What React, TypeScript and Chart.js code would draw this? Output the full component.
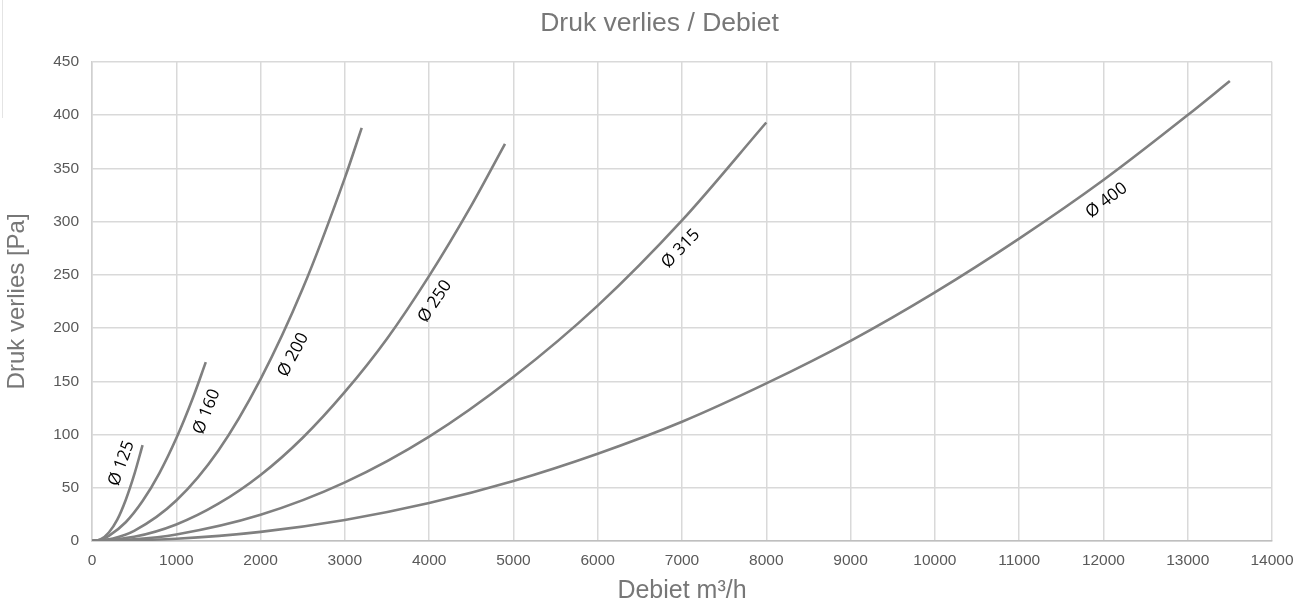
import React, { useEffect, useRef } from "react";
import { Chart, registerables } from "chart.js";

Chart.register(...registerables);

// ---- data ----
const q125 = [0, 100, 200, 300, 400, 500, 600];
const p125 = [0, 1.5, 8, 20, 38.5, 62, 90];

const q160 = [0, 100, 200, 400, 600, 800, 1000, 1200, 1350];
const p160 = [0, 1.2, 4.9, 17.6, 37.5, 63.8, 96.4, 135, 168];

const q200 = [0, 250, 500, 1000, 1500, 2000, 2500, 3000, 3200];
const p200 = [0, 2.4, 9.5, 38, 85, 152, 237, 341, 388];

const q250 = [0, 500, 1000, 1500, 2000, 2500, 3000, 3500, 4000, 4500, 4900];
const p250 = [0, 3.9, 15.5, 35, 62, 97, 140, 190, 249, 315, 373];

const q315 = [0, 500, 1000, 2000, 3000, 4000, 5000, 6000, 7000, 8000];
const p315 = [0, 1.5, 6.1, 24.6, 55, 98, 154, 221, 301, 393];

const q400 = [0, 1000, 2000, 3000, 4000, 5000, 6000, 7000, 8000, 9000, 10000, 11000, 12000, 13000, 13500];
const p400 = [0, 2.1, 8.6, 19.8, 35.7, 56.4, 82, 112, 148, 188, 233.5, 284, 339, 400, 432];

const seriesNames = ["Ø 125", "Ø 160", "Ø 200", "Ø 250", "Ø 315", "Ø 400"];
const seriesQ = [q125, q160, q200, q250, q315, q400];
const seriesP = [p125, p160, p200, p250, p315, p400];

// curve labels: anchor (flow, pressure) and rotation in degrees
const labelQ = [350, 1361, 2388, 4069, 6985, 12037];
const labelP = [72.8, 121.5, 174.8, 224.9, 274.4, 319.8];
const labelAngle = [-70, -68, -62, -56, -46, -37];

const xTickStep = 1000;
const xMax = 14000;
const yTickStep = 50;
const yMax = 450;

const chartTitle = "Druk verlies / Debiet";
const xTitle = "Debiet m³/h";
const yTitle = "Druk verlies [Pa]";

const labelPlugin = {
  id: "curveLabels",
  afterDatasetsDraw(chart: any) {
    const { ctx, scales } = chart;
    ctx.save();
    ctx.fillStyle = "#000000";
    ctx.font = "17px 'Open Sans'";
    ctx.textAlign = "center";
    ctx.textBaseline = "middle";
    for (let i = 0; i < seriesNames.length; i++) {
      const x = scales.x.getPixelForValue(labelQ[i]);
      const y = scales.y.getPixelForValue(labelP[i]);
      ctx.save();
      ctx.translate(x, y);
      ctx.rotate((labelAngle[i] * Math.PI) / 180);
      ctx.fillText(seriesNames[i], 0, 0);
      ctx.restore();
    }
    ctx.restore();
  },
};

export default function App() {
  const canvasRef = useRef<HTMLCanvasElement | null>(null);

  useEffect(() => {
    document.body.style.margin = "0";
    document.body.style.overflow = "hidden";
    const canvas = canvasRef.current;
    if (!canvas) return;

    const datasets = seriesNames.map((name, i) => ({
      label: name,
      data: seriesQ[i].map((q, j) => ({ x: q, y: seriesP[i][j] })),
      showLine: true,
      borderColor: "#808080",
      backgroundColor: "#808080",
      borderWidth: 2.6,
      pointRadius: 0,
      pointHoverRadius: 0,
      cubicInterpolationMode: "monotone" as const,
      fill: false,
    }));

    const tickFont = { family: "'Liberation Sans', Arial, sans-serif", size: 15.5 };
    const titleFont = { family: "'Liberation Sans', Arial, sans-serif", size: 25 };
    const plain = (v: any) => String(v);

    const chart = new Chart(canvas, {
      type: "scatter",
      data: { datasets },
      plugins: [labelPlugin],
      options: {
        animation: false,
        responsive: true,
        maintainAspectRatio: false,
        layout: { padding: { left: 47, right: 33, top: 0, bottom: 0 } },
        plugins: {
          legend: { display: false },
          tooltip: { enabled: false },
          title: {
            display: true,
            text: chartTitle,
            color: "#777777",
            font: { ...titleFont, size: 26.5, weight: "normal" },
            padding: { top: 8, bottom: 22 },
          },
        },
        scales: {
          x: {
            type: "linear",
            min: 0,
            max: xMax,
            afterFit: (scale: any) => {
              scale.height = 65;
            },
            ticks: {
              stepSize: xTickStep,
              color: "#595959",
              font: tickFont,
              padding: 10,
              maxRotation: 0,
              autoSkip: false,
              callback: plain,
            },
            grid: { color: "#d9d9d9", lineWidth: 1.5, drawTicks: false },
            border: { color: "#bfbfbf", width: 1.5 },
            title: {
              display: true,
              text: xTitle,
              color: "#777777",
              font: titleFont,
              padding: { top: 0, bottom: 0 },
            },
          },
          y: {
            type: "linear",
            min: 0,
            max: yMax,
            afterFit: (scale: any) => {
              scale.width = 45;
            },
            ticks: {
              stepSize: yTickStep,
              color: "#595959",
              font: tickFont,
              padding: 13,
              callback: plain,
            },
            grid: { color: "#d9d9d9", lineWidth: 1.5, drawTicks: false },
            border: { color: "#d0d0d0", width: 1.5 },
            title: {
              display: true,
              text: yTitle,
              color: "#777777",
              font: { ...titleFont, size: 24 },
              padding: { top: -44, bottom: 0 },
            },
          },
        },
      },
    });

    return () => {
      chart.destroy();
    };
  }, []);

  return (
    <div style={{ position: "relative", width: 1305, height: 606, background: "#ffffff" }}>
      <div
        style={{
          position: "absolute",
          left: 2,
          top: 0,
          width: 1,
          height: 118,
          background: "#e4e4e4",
        }}
      />
      <canvas ref={canvasRef} />
    </div>
  );
}
